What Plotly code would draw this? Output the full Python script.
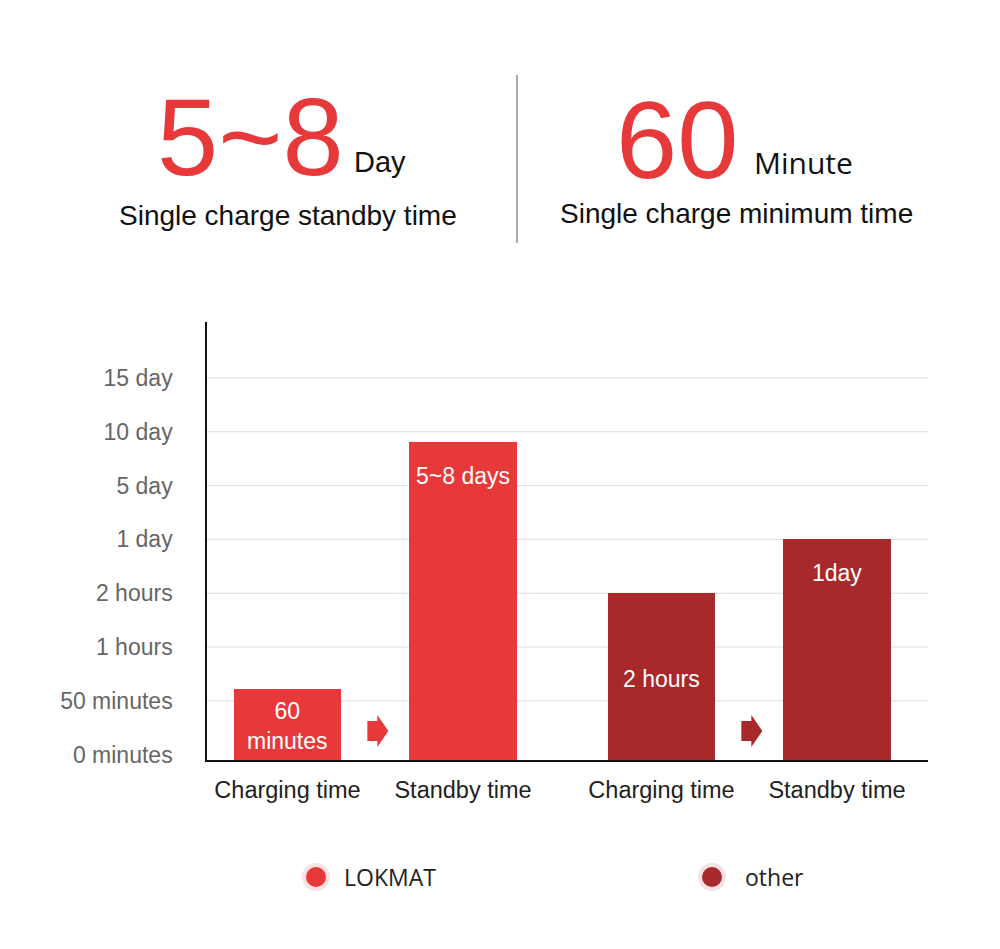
import plotly.graph_objects as go

# ---------------- data ----------------
brands = ["LOKMAT", "other"]
categories = ["Charging time", "Standby time"]
tick_labels = ["0 minutes", "50 minutes", "1 hours", "2 hours",
               "1 day", "5 day", "10 day", "15 day"]
# bar heights expressed on the (ordinal) tick scale above
lokmat_values = [1.22, 5.81]
other_values = [3.0, 4.0]
lokmat_texts = ["60<br>minutes", "5~8 days"]
other_texts = ["2 hours", "1day"]

headline_left = "5~8"
headline_left_unit = "Day"
headline_left_caption = "Single charge standby time"
headline_right = "60"
headline_right_unit = "Minute"
headline_right_caption = "Single charge minimum time"

# ---------------- style ----------------
RED = "#E8393A"
DARK = "#A8292B"
HALO = {"LOKMAT": "#FBE1E1", "other": "#F7E3E3"}
colors = {"LOKMAT": RED, "other": DARK}
OFF = 8                      # page body margin
W, H = 1000 - OFF, 949 - OFF  # figure size
# plot area in screen pixels: x 207..928, y 322..760
PX0, PX1, PY0, PY1 = 207, 928, 322, 760
L, T = PX0 - OFF, PY0 - OFF
R, B = W - (PX1 - OFF), H - (PY1 - OFF)
Y_MIN, Y_MAX = -0.10, 8.04
GROUP_GAP = 2.131
BAR_W = 0.61
X_RANGE = [-0.4587, 3.6496]
ARIAL = "Liberation Sans, Arial, sans-serif"
OPEN = "Open Sans, sans-serif"

def px_x(px):
    return (px - PX0) / (PX1 - PX0)

def px_y(py):
    return (PY1 - py) / (PY1 - PY0)

fig = go.Figure()
series = {"LOKMAT": (lokmat_values, lokmat_texts), "other": (other_values, other_texts)}
tickvals, ticktext = [], []
annotations = []
shapes = []
for g, brand in enumerate(brands):
    vals, texts = series[brand]
    xs = [g * GROUP_GAP + i for i in range(len(categories))]
    tickvals += xs
    ticktext += categories
    fig.add_trace(go.Bar(
        x=xs, y=[v - Y_MIN for v in vals], base=Y_MIN, width=BAR_W,
        marker=dict(color=colors[brand], line=dict(width=0)),
        name=brand, showlegend=False, hoverinfo="skip"))
    # labels inside bars
    for i, (x, v, t) in enumerate(zip(xs, vals, texts)):
        if i == 0:
            annotations.append(dict(x=x, y=(v + Y_MIN) / 2, text=t, showarrow=False,
                                    xref="x", yref="y", yanchor="middle", yshift=-2,
                                    font=dict(family=ARIAL, size=23, color="white")))
        else:
            annotations.append(dict(x=x, y=v, text=t, showarrow=False,
                                    xref="x", yref="y", yanchor="top", yshift=-19,
                                    font=dict(family=ARIAL, size=23, color="white")))
    # arrow between the two bars
    shapes.append(dict(type="path", xref="x", yref="y",
                       xsizemode="pixel", ysizemode="pixel",
                       xanchor=(xs[0] + xs[1]) / 2 + 0.012, yanchor=0.44,
                       path="M -10,-10 L 0,-10 L 0,-16 L 11,0 L 0,16 L 0,10 L -10,10 Z",
                       fillcolor=colors[brand], line=dict(width=0)))

# gridlines (not at the zero tick)
for v in range(1, len(tick_labels)):
    shapes.append(dict(type="line", xref="paper", yref="y", x0=0, x1=1, y0=v, y1=v,
                       line=dict(color="#DDDDDD", width=1), layer="below"))

# legend
legend_pos = {"LOKMAT": (316, 344), "other": (712, 745)}
for brand in brands:
    cx, tx = legend_pos[brand]
    for r, col in ((14, HALO[brand]), (10, colors[brand])):
        shapes.append(dict(type="circle", xref="paper", yref="paper",
                           xsizemode="pixel", ysizemode="pixel",
                           xanchor=px_x(cx), yanchor=px_y(877),
                           x0=-r, x1=r, y0=-r, y1=r,
                           fillcolor=col, line=dict(width=0)))
    annotations.append(dict(x=px_x(tx - 2), y=px_y(877), xref="paper", yref="paper",
                            text=brand, showarrow=False, xanchor="left", yanchor="middle",
                            font=dict(family=OPEN, size=23, color="#222222")))

# headline block
def head(px, py, text, anchor, family, size, color):
    return dict(x=px_x(px), y=px_y(py), xref="paper", yref="paper", text=text,
                showarrow=False, xanchor=anchor, yanchor="middle",
                font=dict(family=family, size=size, color=color))

annotations += [
    head(250, 137, headline_left, "center", ARIAL, 110, RED),
    head(352, 162, headline_left_unit, "left", ARIAL, 29, "#111111"),
    head(287.5, 215, headline_left_caption, "center", ARIAL, 28, "#111111"),
    head(677, 139, headline_right, "center", ARIAL, 110, RED),
    head(752, 162, headline_right_unit, "left", OPEN, 30, "#111111"),
    head(736.5, 213, headline_right_caption, "center", ARIAL, 28, "#111111"),
]
shapes.append(dict(type="line", xref="paper", yref="paper",
                   x0=px_x(517), x1=px_x(517), y0=px_y(75), y1=px_y(243),
                   line=dict(color="#555555", width=1)))

fig.update_layout(
    width=W, height=H,
    margin=dict(l=L, r=R, t=T, b=B, autoexpand=False),
    paper_bgcolor="white", plot_bgcolor="white",
    bargap=0,
    annotations=annotations, shapes=shapes,
    xaxis=dict(range=X_RANGE, tickvals=tickvals, ticktext=ticktext,
               showgrid=False, zeroline=False, showline=True,
               linecolor="#111111", linewidth=1.5, ticks="", ticklabelstandoff=8,
               tickfont=dict(family=ARIAL, size=23.5, color="#222222")),
    yaxis=dict(range=[Y_MIN, Y_MAX], tickvals=list(range(len(tick_labels))),
               ticktext=tick_labels, showgrid=False, zeroline=False,
               showline=True, linecolor="#111111", linewidth=1.5, ticks="",
               ticklabelstandoff=28,
               tickfont=dict(family=ARIAL, size=23, color="#666666")),
)

fig.write_html("out.html")
